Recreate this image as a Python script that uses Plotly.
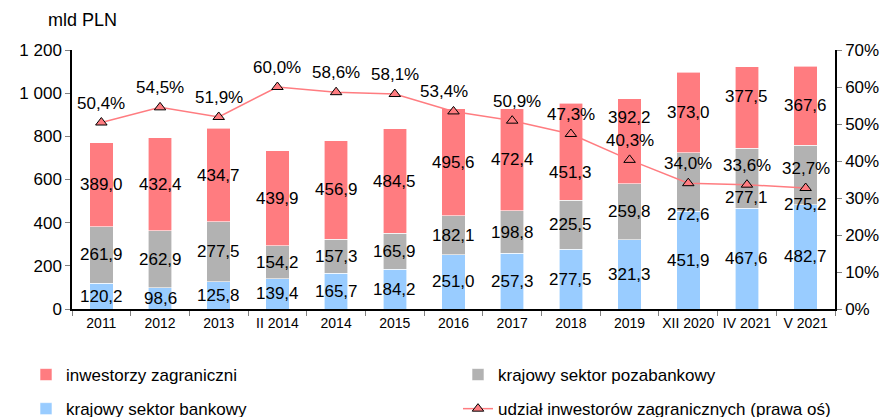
import plotly.graph_objects as go

categories = ["2011", "2012", "2013", "II 2014", "2014", "2015", "2016", "2017", "2018",
              "2019", "XII 2020", "IV 2021", "V 2021"]
bankowy = [120.2, 98.6, 125.8, 139.4, 165.7, 184.2, 251.0, 257.3, 277.5, 321.3, 451.9, 467.6, 482.7]
pozabankowy = [261.9, 262.9, 277.5, 154.2, 157.3, 165.9, 182.1, 198.8, 225.5, 259.8, 272.6, 277.1, 275.2]
zagraniczni = [389.0, 432.4, 434.7, 439.9, 456.9, 484.5, 495.6, 472.4, 451.3, 392.2, 373.0, 377.5, 367.6]
udzial = [50.4, 54.5, 51.9, 60.0, 58.6, 58.1, 53.4, 50.9, 47.3, 40.3, 34.0, 33.6, 32.7]

# label nudges in pixels (style only, as in the original hand-placed labels)
red_label_dy = [0, 0, 0, 0, 0, 0, 0, 0, -21, 24, 0, 11, 0]
grey_label_dy = [0, 0, 0, 0, 0, 0, 0, 0, 0, 0, -32, -19, -29]
pct_label_dx = [0, 0, 0, 0, 0, 0, -10, 5, 0, 0, 0, 0, 0]

FONT = "Liberation Sans, Arial, sans-serif"
RED = "#FF7C80"
GREY = "#B2B2B2"
BLUE = "#99CCFF"

W, H = 883, 409  # page body has an 8px margin


def fmt(v):
    return f"{v:.1f}".replace(".", ",")


def bar(name, vals, color, legend, rank):
    return go.Bar(
        x=categories, y=vals, name=name, marker=dict(color=color, line=dict(color="white", width=0.6)),
        legend=legend, legendgroup=name, legendrank=rank,
    )


fig = go.Figure()
fig.add_trace(bar("krajowy sektor bankowy", bankowy, BLUE, "legend", 2))
fig.add_trace(bar("krajowy sektor pozabankowy", pozabankowy, GREY, "legend2", 1))
fig.add_trace(bar("inwestorzy zagraniczni", zagraniczni, RED, "legend", 1))
fig.add_trace(go.Scatter(
    x=categories, y=udzial, yaxis="y2", name="udział inwestorów zagranicznych (prawa oś)",
    mode="lines+markers", line=dict(color=RED, width=1.5),
    marker=dict(symbol="triangle-up", size=10, color=RED, line=dict(color="black", width=1)),
    legend="legend2", legendgroup="u", legendrank=2, cliponaxis=False,
))

annotations = []
for i in range(len(categories)):
    b, p, z = bankowy[i], pozabankowy[i], zagraniczni[i]
    for val, mid, dy in ((b, b / 2, 0), (p, b + p / 2, grey_label_dy[i]), (z, b + p + z / 2, red_label_dy[i])):
        annotations.append(dict(
            x=i, y=mid, xref="x", yref="y", text=fmt(val), showarrow=False,
            yshift=dy, font=dict(size=17, color="black", family=FONT),
        ))
    annotations.append(dict(
        x=i, y=udzial[i], xref="x", yref="y2", text=fmt(udzial[i]) + "%", showarrow=False,
        yanchor="bottom", yshift=8, xshift=pct_label_dx[i],
        font=dict(size=17, color="black", family=FONT),
    ))
annotations.append(dict(
    text="mld PLN", xref="paper", yref="paper", x=-0.034, y=1.0, yshift=30,
    xanchor="left", yanchor="middle", showarrow=False, font=dict(size=18),
))

fig.update_layout(
    width=W, height=H,
    margin=dict(l=64, r=56, t=42, b=108, autoexpand=False),
    barmode="stack", bargap=0.6,
    separators=", ",
    font=dict(family=FONT, color="black", size=16),
    plot_bgcolor="white", paper_bgcolor="white",
    xaxis=dict(
        type="category", categoryorder="array", categoryarray=categories,
        range=[-0.5, len(categories) - 0.5],
        showline=True, linecolor="black", linewidth=1.5,
        ticks="outside", tickson="boundaries", ticklen=5, tickcolor="#808080",
        tickfont=dict(size=14), showgrid=False, automargin=False, tickangle=0,
    ),
    yaxis=dict(
        range=[0, 1200], dtick=200, showline=True, linecolor="black", linewidth=1.5,
        ticks="outside", ticklen=5, tickcolor="#808080", showgrid=False, zeroline=False,
        separatethousands=True, tickfont=dict(size=17), automargin=False,
    ),
    yaxis2=dict(
        range=[0, 70], dtick=10, overlaying="y", side="right", ticksuffix="%",
        showline=True, linecolor="black", linewidth=1.5,
        ticks="outside", ticklen=5, tickcolor="#808080", showgrid=False, zeroline=False,
        tickfont=dict(size=17), automargin=False,
    ),
    legend=dict(
        xref="container", yref="container", x=18 / W, y=1 - 349 / H, xanchor="left", yanchor="top",
        orientation="v", font=dict(size=17), tracegroupgap=9, traceorder="grouped",
        bgcolor="rgba(0,0,0,0)",
    ),
    legend2=dict(
        xref="container", yref="container", x=450 / W, y=1 - 349 / H, xanchor="left", yanchor="top",
        orientation="v", font=dict(size=17), tracegroupgap=9, traceorder="grouped",
        bgcolor="rgba(0,0,0,0)",
    ),
    annotations=annotations,
)

fig.write_html("out.html")
